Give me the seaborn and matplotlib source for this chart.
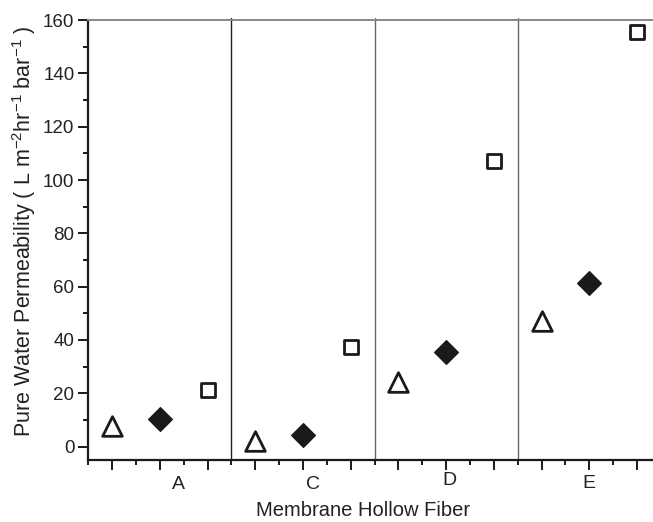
import matplotlib
matplotlib.use("Agg")
import matplotlib.pyplot as plt
import matplotlib.transforms as mtransforms
from matplotlib.ticker import FixedLocator
import seaborn as sns
import pandas as pd

# ---- data ----
categories = ["A", "C", "D", "E"]
triangle_vals = [7.9, 2.0, 24.4, 47.2]
diamond_vals = [10.5, 4.3, 35.5, 61.4]
square_vals = [21.4, 37.4, 107.0, 155.4]
y_ticks = [0, 20, 40, 60, 80, 100, 120, 140, 160]

sns.set_theme(style="white")
plt.rcParams["font.family"] = ["Liberation Sans", "DejaVu Sans"]
plt.rcParams["mathtext.fontset"] = "custom"
plt.rcParams["mathtext.rm"] = "Liberation Sans"
plt.rcParams["mathtext.default"] = "regular"

fig = plt.figure(figsize=(6.53, 5.22), dpi=100)
ax = fig.add_axes([88.3 / 653, 1 - 460 / 522, (660.8 - 88.3) / 653, 440 / 522])

# positions: three slots per category
rows = []
for i, c in enumerate(categories):
    base = 3 * i + 2
    rows.append(dict(cat=c, kind="tri", pos=base - 1, val=triangle_vals[i]))
    rows.append(dict(cat=c, kind="dia", pos=base, val=diamond_vals[i]))
    rows.append(dict(cat=c, kind="sq", pos=base + 1, val=square_vals[i]))
df = pd.DataFrame(rows)

sns.scatterplot(data=df[df.kind == "tri"], x="pos", y="val", marker="^", s=200,
                facecolor="white", edgecolor="#1a1a1a", linewidth=2.0, ax=ax, zorder=3)
sns.scatterplot(data=df[df.kind == "dia"], x="pos", y="val", marker="D", s=145,
                facecolor="#1a1a1a", edgecolor="#1a1a1a", linewidth=1.0, ax=ax, zorder=3)
sns.scatterplot(data=df[df.kind == "sq"], x="pos", y="val", marker="s", s=95,
                facecolor="white", edgecolor="#1a1a1a", linewidth=2.0, ax=ax, zorder=3)

ax.set_xlim(0.5, 12.5)
ax.set_ylim(-5, 160)

# group separators
sep_colors = ["#222222", "#666666", "#666666"]
for k in range(len(categories) - 1):
    ax.axvline(3 * k + 3.5, color=sep_colors[k], lw=1.0, ymin=0, ymax=1.005, clip_on=False, zorder=1)

# spines
for s in ["left", "bottom"]:
    ax.spines[s].set_color("#1a1a1a")
    ax.spines[s].set_linewidth(1.6)
ax.spines["top"].set_color("#888888")
ax.spines["top"].set_linewidth(1.4)
ax.spines["right"].set_visible(False)

# ticks
ax.yaxis.set_major_locator(FixedLocator(y_ticks))
ax.yaxis.set_minor_locator(FixedLocator([v + 10 for v in y_ticks[:-1]]))
ax.xaxis.set_major_locator(FixedLocator(list(range(1, 13))))
ax.xaxis.set_minor_locator(FixedLocator([x + 0.5 for x in range(0, 12)]))
ax.set_xticklabels([])
ax.tick_params(axis="both", which="major", direction="out", length=7, width=1.4,
               color="#1a1a1a", bottom=True, left=True, top=False, right=False)
ax.tick_params(axis="both", which="minor", direction="out", length=3.8, width=1.4,
               color="#1a1a1a", bottom=True, left=True, top=False, right=False)
ax.tick_params(axis="y", labelsize=13.5, pad=3, labelcolor="#222222")

ax.set_xlabel("")
ax.set_ylabel("")

# category labels
label_x = [2.39, 5.2, 8.07, 11.0]
label_y = [-0.055, -0.055, -0.047, -0.053]
trans = mtransforms.blended_transform_factory(ax.transData, ax.transAxes)
for c, lx, ly in zip(categories, label_x, label_y):
    ax.text(lx, ly, c, transform=trans, ha="center", va="center", fontsize=14, color="#222222")

fig.text(363 / 653, 1 - 511 / 522, "Membrane Hollow Fiber", ha="center", va="center",
         fontsize=14.5, color="#222222")
fig.text(24 / 653, 1 - 231 / 522,
         r"Pure Water Permeability ( L m$^{-2}$hr$^{-1}$ bar$^{-1}$ )",
         rotation=90, ha="center", va="center", fontsize=15.5, color="#222222")

fig.savefig("out.png", dpi=100)
